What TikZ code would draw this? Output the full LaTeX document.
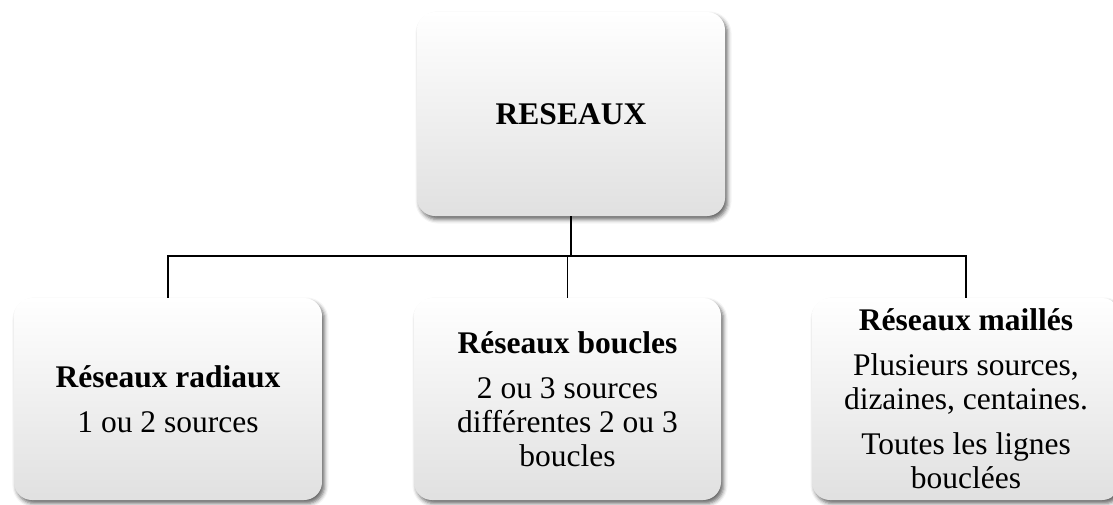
\documentclass[tikz,border=0pt]{standalone}
\usepackage{fontspec}
\setmainfont{Liberation Serif}
\usetikzlibrary{shadows.blur}

\begin{document}
\begin{tikzpicture}[x=1pt,y=-1pt,
  card/.style={rectangle, rounded corners=18pt, minimum width=308pt,
    inner sep=0pt, align=center,
    top color=white, middle color=white, bottom color=black!12,
    blur shadow={shadow xshift=2.5pt, shadow yshift=-3.5pt,
      shadow blur radius=4pt, shadow opacity=60},
    font=\fontsize{31.5}{34}\selectfont},
  link/.style={line width=1.9pt, black}]
  \useasboundingbox (0,0) rectangle (1113,504);

  % root
  \node[card, minimum height=204pt] (root) at (571,114) {\textbf{RESEAUX}};

  % the three kinds of network
  \node[card, minimum height=202pt] (radial) at (168,399)
    {\textbf{Réseaux radiaux}\\[11pt]1 ou 2 sources};
  \node[card, minimum height=202pt, minimum width=307pt] (loop) at (567.5,399)
    {\textbf{Réseaux boucles}\\[11pt]2 ou 3 sources\\différentes 2 ou 3\\boucles};
  \node[card, minimum height=202pt] (mesh) at (966,399)
    {\textbf{Réseaux maillés}\\[11pt]Plusieurs sources,\\dizaines, centaines.\\[11pt]Toutes les lignes\\bouclées};

  % tree connectors
  \coordinate (bus) at (571,256);
  \draw[link] (root.south) -- (bus);
  \draw[link] (radial.north) |- (bus) -| (mesh.north);
  \draw[link] (loop.north) -- (loop.north |- bus);
\end{tikzpicture}
\end{document}
